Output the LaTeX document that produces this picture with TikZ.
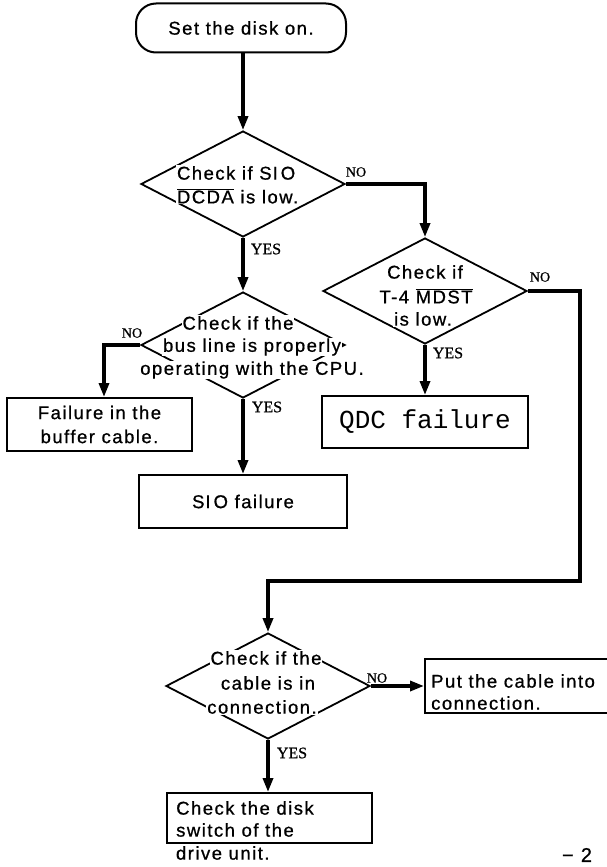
\documentclass[tikz,border=0pt]{standalone}
\usepackage{fontspec}
\setmainfont[LetterSpace=8,FakeBold=0.8]{Liberation Sans}
\newfontfamily\lblfont[FakeBold=0.8]{Liberation Serif}
\newfontfamily\monofont{Liberation Mono}
\usetikzlibrary{arrows.meta,shapes.geometric,calc}
\newcommand\ovl[1]{$\overline{\hbox{#1}}$}
\newcommand\SIOtxt{S\kern1pt I\kern3pt O}
\tikzset{
  txt/.style={font=\fontsize{18.5}{24}\selectfont, inner sep=1pt},
  dtxt/.style={txt, fill=white, inner sep=0.8pt},
  dia/.style={draw, shape=diamond, line width=1.8pt, minimum width=204pt, minimum height=106pt, inner sep=0pt},
  boxs/.style={draw, rectangle, line width=2pt, inner sep=0pt, font=\fontsize{18.5}{24}\selectfont, align=center},
  term/.style={boxs, rounded corners=20pt},
  conn/.style={line width=3.3pt},
  arr/.style={conn, -{Triangle[length=14pt,width=10pt]}},
  lblN/.style={font=\lblfont\fontsize{14}{14}\selectfont, inner sep=0pt},
  lblY/.style={font=\lblfont\fontsize{16}{16}\selectfont, inner sep=0pt},
}
\begin{document}
\begin{tikzpicture}[x=1pt,y=-1pt]
\useasboundingbox (0,0) rectangle (606,867);

% start
\node[term, minimum width=210pt, minimum height=49pt] (start) at (241,28) {Set the disk on.};

% decision 1
\node[dia] (d1) at (243,184) {};
\node[dtxt, anchor=west] (d1a) at (176,173) {Check if \SIOtxt};
\node[dtxt, anchor=west] (d1b) at (176,196) {\ovl{DCDA} is low.};

% decision 2
\node[dia] (d2) at (425,291) {};
\node[dtxt] (d2a) at (425,272) {Check if};
\node[dtxt] (d2b) at (426,296) {T-4 \ovl{MDST}};
\node[dtxt] (d2c) at (423,319) {is low.};

% decision 3
\node[dia] (d3) at (243,345) {};
\node[dtxt] (d3a) at (238,323) {Check if the};
\node[dtxt] (d3b) at (252,347) {bus line is properly};
\node[dtxt] (d3c) at (252,370) {operating with the CPU.};

% decision 4
\node[dia] (d4) at (268,686) {};
\node[dtxt] (d4a) at (266,658) {Check if the};
\node[dtxt] (d4b) at (268,683) {cable is in};
\node[dtxt] (d4c) at (262,707) {connection.};

% boxes
\node[boxs, minimum width=185pt, minimum height=53pt] (b1) at (99.5,424.5) {Failure in the\\buffer cable.};
\node[boxs, minimum width=208pt, minimum height=53pt] (sio) at (243,501.5) {\SIOtxt\ failure};
\node[boxs, minimum width=206pt, minimum height=52pt, font=\monofont\fontsize{26}{26}\selectfont] (qdc) at (425,422) {QDC failure};
\node[boxs, minimum width=220pt, minimum height=54pt] (put) at (535,686) {};
\node[txt, anchor=west] (put1) at (430,681) {Put the cable into};
\node[txt, anchor=west] (put2) at (430,703) {connection.};
\node[boxs, minimum width=205pt, minimum height=50pt] (chk) at (269.5,818) {};
\node[txt, anchor=west] (chk1) at (175,808) {Check the disk};
\node[txt, anchor=west] (chk2) at (175,830) {switch of the};
\node[dtxt, anchor=west] (chk3) at (175,853) {drive unit.};

% connectors
\draw[arr] (start.south -| d1.north) -- (d1.north);
\draw[arr] (d1.east) -| (d2.north);
\draw[arr] (d1.south) -- (d3.north);
\draw[arr] (d3.west) -| ($(b1.north)+(4.5,0)$);
\draw[arr] (d3.south) -- (sio.north);
\draw[arr] (d2.south) -- (qdc.north);
\coordinate (r1) at (580,581);
\draw[arr] (d2.east) -| (r1) -| (d4.north);
\draw[arr] (d4.east) -- (put.west);
\draw[arr] (d4.south) -- (d4.south |- chk.north);

% labels
\node[lblN] (no1) at (356,172) {NO};
\node[lblY] (yes1) at (266,249) {YES};
\node[lblN] (no2) at (540,277) {NO};
\node[lblY] (yes2) at (448,353) {YES};
\node[lblN] (no3) at (132,333) {NO};
\node[lblY] (yes3) at (267,407) {YES};
\node[lblN] (no4) at (377,678) {NO};
\node[lblY] (yes4) at (292,753) {YES};

% page number
\node[font=\fontsize{20}{20}\selectfont, inner sep=0pt] (pg) at (577,855) {− 2};
\end{tikzpicture}
\end{document}
